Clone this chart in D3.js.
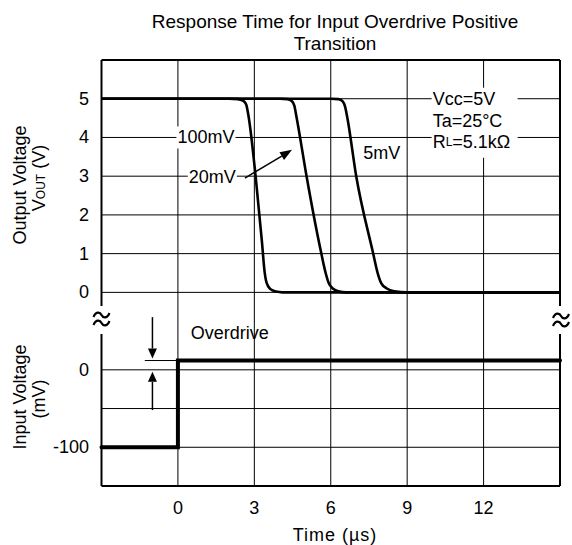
<!DOCTYPE html>
<html>
<head>
<meta charset="utf-8">
<script src="https://cdn.jsdelivr.net/npm/d3@7"></script>
<style>
  html, body { margin: 0; padding: 0; background: #fff; }
  text { font-family: "Liberation Sans", Arial, Helvetica, sans-serif; fill: #000; }
</style>
</head>
<body>
<svg id="chart" width="572" height="545"></svg>
<script>
// ---------- data ----------
const title = ["Response Time for Input Overdrive Positive", "Transition"];
const xTicks = [0, 3, 6, 9, 12];
const xGrid = [0, 3, 6, 9, 12];
const vTicks = [0, 1, 2, 3, 4, 5];
const vGrid = [0, 1, 2, 3, 4, 5];
const mvTicks = [0, -100];
const mvGrid = [0, -50, -100];

// output voltage curves (time µs, volts)
const t100 = [-3, 2.0, 2.35, 2.55, 2.68, 2.76, 3.05, 3.3, 3.4, 3.48, 3.62, 3.85, 4.1, 15];
const v100 = [5, 5, 4.99, 4.95, 4.85, 4.6, 3.0, 1.3, 0.55, 0.25, 0.09, 0.02, 0, 0];
const t20 = [-3, 4.0, 4.3, 4.47, 4.57, 4.65, 5.05, 5.6, 5.8, 5.92, 6.08, 6.3, 6.6, 15];
const v20 = [5, 5, 4.99, 4.94, 4.82, 4.55, 3.0, 1.1, 0.5, 0.24, 0.1, 0.03, 0, 0];
const t5 = [-3, 6.0, 6.3, 6.47, 6.56, 6.64, 7.0, 7.65, 7.85, 7.98, 8.2, 8.5, 9.0, 15];
const v5 = [5, 5, 4.99, 4.93, 4.8, 4.55, 3.0, 1.05, 0.48, 0.24, 0.1, 0.03, 0, 0];

// input voltage step (time µs, mV)
const inT = [-3, 0, 0, 15];
const inMV = [-100, -100, 12, 12];
const overdriveMV = 12;

// ---------- layout ----------
const svg = d3.select("#chart");
const L = 101.5, R = 560, T = 60, B = 486;
const rowH = (B - T) / 11;
const x = d3.scaleLinear().domain([-3, 15]).range([L, R]);
const yV = d3.scaleLinear().domain([0, 6]).range([T + 6 * rowH, T]);
const yM = d3.scaleLinear().domain([-150, 50]).range([B, B - 4 * rowH]);
const FS = 18;

// grid
const g = svg.append("g");
g.selectAll(".vg").data(xGrid).join("line")
  .attr("x1", d => x(d)).attr("x2", d => x(d)).attr("y1", T).attr("y2", B)
  .attr("stroke", "#000").attr("stroke-width", 1);
g.selectAll(".hgv").data(vGrid).join("line")
  .attr("x1", L).attr("x2", R).attr("y1", d => yV(d)).attr("y2", d => yV(d))
  .attr("stroke", "#000").attr("stroke-width", 1);
g.selectAll(".hgm").data(mvGrid).join("line")
  .attr("x1", L).attr("x2", R).attr("y1", d => yM(d)).attr("y2", d => yM(d))
  .attr("stroke", "#000").attr("stroke-width", 1);

// frame with breaks
const breakTop = 306, breakBot = 334;
const frame = svg.append("g").attr("stroke", "#000").attr("stroke-width", 2).attr("fill", "none");
frame.append("line").attr("x1", L).attr("x2", R).attr("y1", T).attr("y2", T);
frame.append("line").attr("x1", L).attr("x2", R).attr("y1", B).attr("y2", B);
frame.append("line").attr("x1", L).attr("x2", L).attr("y1", T).attr("y2", breakTop);
frame.append("line").attr("x1", L).attr("x2", L).attr("y1", breakBot).attr("y2", B);
frame.append("line").attr("x1", R).attr("x2", R).attr("y1", T).attr("y2", breakTop);
frame.append("line").attr("x1", R).attr("x2", R).attr("y1", breakBot).attr("y2", B);

function squiggle(cx, cy) {
  [cy - 4, cy + 4].forEach(yy => {
    svg.append("path")
      .attr("d", `M${cx - 8},${yy + 2} C${cx - 5},${yy - 5} ${cx - 1},${yy - 2} ${cx},${yy} C${cx + 1},${yy + 2} ${cx + 5},${yy + 5} ${cx + 8},${yy - 2}`)
      .attr("fill", "none").attr("stroke", "#000").attr("stroke-width", 2.2);
  });
}
squiggle(L, 319);
squiggle(R + 1, 320);

// helper for text with white background
function labelBg(sel, pad) {
  const bb = sel.node().getBBox();
  svg.insert("rect", () => sel.node())
    .attr("x", bb.x - pad).attr("y", bb.y - 1).attr("width", bb.width + 2 * pad).attr("height", bb.height + 2)
    .attr("fill", "#fff");
}

// curves
const lineGen = d3.line().x(d => x(d[0])).y(d => yV(d[1])).curve(d3.curveMonotoneX);
[[t100, v100], [t20, v20], [t5, v5]].forEach(([ts, vs]) => {
  svg.append("path").datum(ts.map((t, i) => [t, vs[i]]))
    .attr("d", lineGen).attr("fill", "none").attr("stroke", "#000")
    .attr("stroke-width", 2.6).attr("stroke-linejoin", "round");
});

// input step
const stepGen = d3.line().x(d => x(d[0])).y(d => yM(d[1]));
svg.append("path").datum(inT.map((t, i) => [t, inMV[i]]))
  .attr("d", stepGen).attr("fill", "none").attr("stroke", "#000")
  .attr("stroke-width", 4).attr("stroke-linejoin", "miter").attr("stroke-linecap", "round");

// curve labels
const t100l = svg.append("text").attr("x", x(1.1)).attr("y", yV(4.0)).attr("text-anchor", "middle")
  .attr("dominant-baseline", "central").attr("font-size", FS).text("100mV");
labelBg(t100l, 1);
const t20l = svg.append("text").attr("x", x(1.35)).attr("y", yV(2.97)).attr("text-anchor", "middle")
  .attr("dominant-baseline", "central").attr("font-size", FS).text("20mV");
labelBg(t20l, 1);
svg.append("text").attr("x", x(8.0)).attr("y", yV(3.6)).attr("text-anchor", "middle")
  .attr("dominant-baseline", "central").attr("font-size", FS).text("5mV");

// 20mV arrow
function arrow(x1, y1, x2, y2, head, half) {
  const ang = Math.atan2(y2 - y1, x2 - x1);
  const bx = x2 - head * Math.cos(ang), by = y2 - head * Math.sin(ang);
  svg.append("line").attr("x1", x1).attr("y1", y1).attr("x2", bx).attr("y2", by)
    .attr("stroke", "#000").attr("stroke-width", 1.5);
  const px = -Math.sin(ang) * half, py = Math.cos(ang) * half;
  svg.append("path").attr("d", `M${x2},${y2} L${bx + px},${by + py} L${bx - px},${by - py} Z`).attr("fill", "#000");
}
arrow(x(2.63), yV(2.95), x(4.48), yV(3.68), 12, 4.5);

// conditions box
const condX = x(10.0);
svg.append("rect").attr("x", condX - 1).attr("y", yV(5) - 11).attr("width", 86).attr("height", 70).attr("fill", "#fff");
svg.append("text").attr("x", condX).attr("y", yV(5)).attr("dominant-baseline", "central").attr("font-size", FS).text("Vcc=5V");
svg.append("text").attr("x", condX).attr("y", yV(4.43)).attr("dominant-baseline", "central").attr("font-size", FS).text("Ta=25°C");
const rl = svg.append("text").attr("x", condX).attr("y", yV(3.87)).attr("dominant-baseline", "central").attr("font-size", FS);
rl.append("tspan").text("R");
rl.append("tspan").attr("font-size", 12).text("L");
rl.append("tspan").text("=5.1kΩ");

// overdrive annotation
svg.append("text").attr("x", x(0.5)).attr("y", yM(47)).attr("dominant-baseline", "central").attr("font-size", FS).text("Overdrive");
svg.append("line").attr("x1", x(-1.3)).attr("x2", x(0)).attr("y1", yM(overdriveMV)).attr("y2", yM(overdriveMV))
  .attr("stroke", "#000").attr("stroke-width", 1);
arrow(x(-1), yM(68), x(-1), yM(overdriveMV) - 2, 10, 4.5);
arrow(x(-1), yM(-52), x(-1), yM(0) + 2, 10, 4.5);

// tick labels
svg.selectAll(".xt").data(xTicks).join("text")
  .attr("x", d => x(d)).attr("y", 514).attr("text-anchor", "middle").attr("font-size", FS).text(d => d);
svg.selectAll(".yvt").data(vTicks).join("text")
  .attr("x", 89).attr("y", d => yV(d)).attr("text-anchor", "end").attr("dominant-baseline", "central")
  .attr("font-size", FS).text(d => d);
svg.selectAll(".ymt").data(mvTicks).join("text")
  .attr("x", 89).attr("y", d => yM(d)).attr("text-anchor", "end").attr("dominant-baseline", "central")
  .attr("font-size", FS).text(d => d);

// axis titles
svg.append("text").attr("x", 335).attr("y", 541).attr("text-anchor", "middle").attr("font-size", FS)
  .attr("letter-spacing", 1).text("Time (µs)");
svg.append("text").attr("transform", "translate(26,185) rotate(-90)").attr("text-anchor", "middle").attr("font-size", FS).text("Output Voltage");
const vout = svg.append("text").attr("transform", "translate(45,178) rotate(-90)").attr("text-anchor", "middle").attr("font-size", FS);
vout.append("tspan").text("V");
vout.append("tspan").attr("font-size", 12).text("OUT");
vout.append("tspan").text(" (V)");
svg.append("text").attr("transform", "translate(26,397) rotate(-90)").attr("text-anchor", "middle").attr("font-size", FS).text("Input Voltage");
svg.append("text").attr("transform", "translate(45,399) rotate(-90)").attr("text-anchor", "middle").attr("font-size", FS).text("(mV)");

// title
svg.selectAll(".title").data(title).join("text")
  .attr("x", 335).attr("y", (d, i) => 28 + i * 22).attr("text-anchor", "middle").attr("font-size", 19).text(d => d);
</script>
</body>
</html>
